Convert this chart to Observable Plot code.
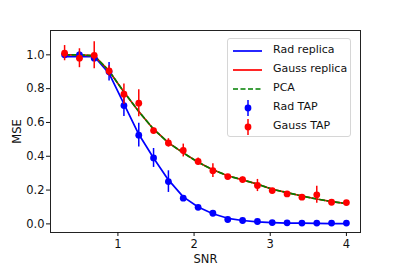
<!DOCTYPE html>
<html><head><meta charset="utf-8">
<script src="https://cdn.jsdelivr.net/npm/d3@7"></script>
<script src="https://cdn.jsdelivr.net/npm/@observablehq/plot@0.6"></script>
<style>
body{margin:0;background:#fff;}
#wrap{position:relative;width:399px;height:266px;font-family:"DejaVu Sans",sans-serif;}
#legend{position:absolute;left:227px;top:38px;width:124px;height:99px;border:1px solid #d6d6d6;border-radius:3px;background:rgba(255,255,255,0.85);box-sizing:border-box;}
#legend svg{position:absolute;left:0;top:0;}
.lg{position:absolute;left:45px;font-size:11px;color:#111;line-height:12px;white-space:nowrap;}
</style></head><body><div id="wrap"></div>
<script>
const snr = [0.3, 0.495, 0.689, 0.884, 1.079, 1.274, 1.468, 1.663, 1.858, 2.053, 2.247, 2.442, 2.637, 2.832, 3.026, 3.221, 3.416, 3.611, 3.805, 4.0];
const radReplica = [0.99, 0.99, 0.99, 0.89, 0.71, 0.53, 0.39, 0.26, 0.16, 0.10, 0.06, 0.033, 0.02, 0.012, 0.008, 0.005, 0.004, 0.003, 0.002, 0.002];
const gaussReplica = [1.0, 1.0, 0.995, 0.905, 0.78, 0.665, 0.56, 0.48, 0.42, 0.365, 0.32, 0.285, 0.26, 0.235, 0.205, 0.185, 0.165, 0.147, 0.132, 0.12];
const pca = [1.0, 1.0, 0.995, 0.905, 0.78, 0.665, 0.56, 0.48, 0.42, 0.365, 0.32, 0.285, 0.26, 0.235, 0.205, 0.185, 0.165, 0.147, 0.132, 0.12];
const radTap = [1.0, 1.0, 0.98, 0.9, 0.70, 0.525, 0.39, 0.25, 0.152, 0.098, 0.063, 0.026, 0.02, 0.014, 0.008, 0.006, 0.005, 0.005, 0.005, 0.005];
const radTapErr = [0.02, 0.02, 0.02, 0.055, 0.065, 0.07, 0.056, 0.064, 0.015, 0.01, 0.008, 0.008, 0.006, 0.006, 0.005, 0.005, 0.005, 0.005, 0.005, 0.005];
const gaussTap = [1.01, 0.98, 0.997, 0.905, 0.767, 0.714, 0.552, 0.479, 0.434, 0.369, 0.315, 0.28, 0.262, 0.227, 0.197, 0.177, 0.158, 0.172, 0.128, 0.126];
const gaussTapErr = [0.045, 0.056, 0.08, 0.03, 0.06, 0.08, 0.015, 0.025, 0.038, 0.02, 0.04, 0.012, 0.015, 0.036, 0.012, 0.012, 0.012, 0.05, 0.01, 0.01];
const yTicks = [0, 0.2, 0.4, 0.6, 0.8, 1.0];
const xTicks = [1, 2, 3, 4];
const legendLabels = ["Rad replica", "Gauss replica", "PCA", "Rad TAP", "Gauss TAP"];

const rows = snr.map((x, i) => ({x, rr: radReplica[i], gr: gaussReplica[i], pca: pca[i], rt: radTap[i], rte: radTapErr[i], gt: gaussTap[i], gte: gaussTapErr[i]}));

const chart = Plot.plot({
  width: 399, height: 266,
  marginLeft: 50, marginRight: 39, marginTop: 30, marginBottom: 34,
  style: {fontFamily: "DejaVu Sans, sans-serif", fontSize: "11.5px", color: "#111", background: "transparent"},
  x: {domain: [0.115, 4.185]},
  y: {domain: [-0.051, 1.144]},
  marks: [
    Plot.line(rows, {x: "x", y: "rr", stroke: "#0000ff", strokeWidth: 1.7}),
    Plot.line(rows, {x: "x", y: "gr", stroke: "#ff0000", strokeWidth: 1.7}),
    Plot.line(rows, {x: "x", y: "pca", stroke: "#008000", strokeWidth: 1.7, strokeDasharray: "5,2.5"}),
    Plot.ruleX(rows, {x: "x", y1: d => d.rt - d.rte, y2: d => d.rt + d.rte, stroke: "#0000ff", strokeWidth: 1.5}),
    Plot.dot(rows, {x: "x", y: "rt", r: 3.4, fill: "#0000ff", stroke: "none"}),
    Plot.ruleX(rows, {x: "x", y1: d => d.gt - d.gte, y2: d => d.gt + d.gte, stroke: "#ff0000", strokeWidth: 1.5}),
    Plot.dot(rows, {x: "x", y: "gt", r: 3.4, fill: "#ff0000", stroke: "none"}),
    Plot.frame({stroke: "#222", strokeWidth: 1}),
    Plot.axisY({ticks: yTicks, tickFormat: d => d.toFixed(1), tickSize: 4, tickPadding: 2, label: "MSE", labelAnchor: "center", labelOffset: 38, labelArrow: "none"}),
    Plot.axisX({ticks: xTicks, tickFormat: d => String(d), tickSize: 4, tickPadding: 3, label: "SNR", labelAnchor: "center", labelOffset: 30, labelArrow: "none"})
  ]
});
const wrap = document.getElementById("wrap");
wrap.appendChild(chart);

// legend
const lg = document.createElement("div");
lg.id = "legend";
const rowY = [12, 31, 50, 69, 88];
const colors = ["#0000ff", "#ff0000", "#008000", "#0000ff", "#ff0000"];
let svg = '<svg width="124" height="99">';
for (let i = 0; i < 5; i++) {
  const y = rowY[i];
  if (i < 2) svg += `<line x1="5" x2="34" y1="${y}" y2="${y}" stroke="${colors[i]}" stroke-width="1.7"/>`;
  else if (i === 2) svg += `<line x1="5" x2="34" y1="${y}" y2="${y}" stroke="${colors[i]}" stroke-width="1.7" stroke-dasharray="5,2.5"/>`;
  else svg += `<line x1="20" x2="20" y1="${y - 8}" y2="${y + 8}" stroke="${colors[i]}" stroke-width="1.5"/><circle cx="20" cy="${y}" r="3.4" fill="${colors[i]}"/>`;
}
svg += '</svg>';
lg.innerHTML = svg + legendLabels.map((t, i) => `<div class="lg" style="top:${rowY[i] - 7}px">${t}</div>`).join("");
wrap.appendChild(lg);
</script></body></html>
